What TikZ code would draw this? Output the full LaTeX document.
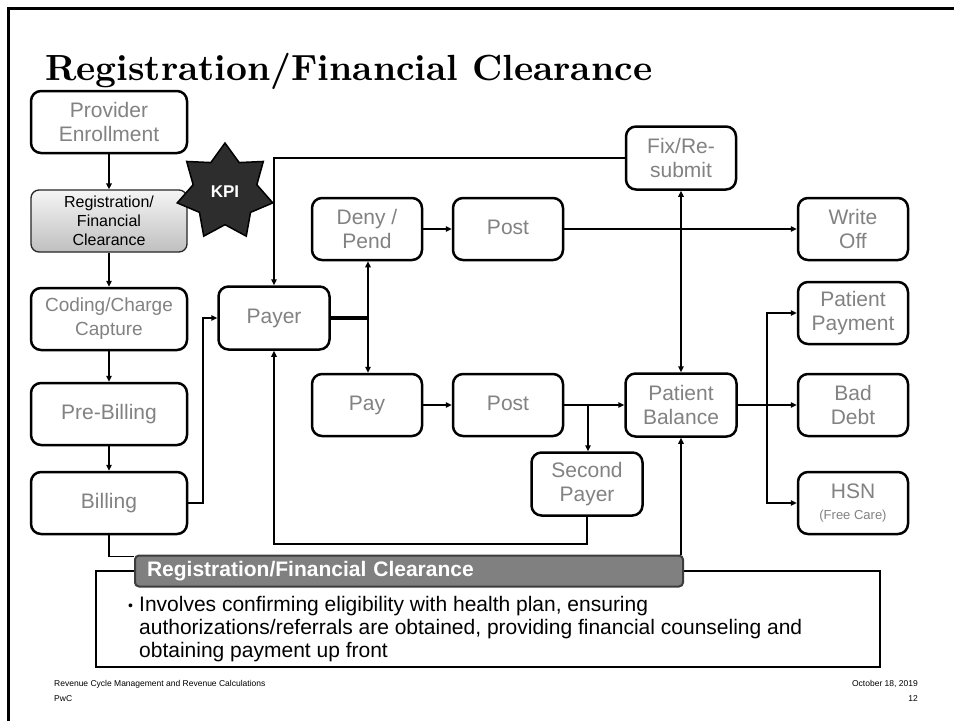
\documentclass[tikz,border=0pt]{standalone}
\usepackage{fontspec}
\usepackage{graphicx}
\usetikzlibrary{arrows.meta,shapes.geometric,calc}
\newfontfamily\arialf{Liberation Sans}
\definecolor{labelgray}{RGB}{130,130,130}
\definecolor{barfill}{RGB}{128,128,128}
\definecolor{bardraw}{RGB}{60,60,60}
\definecolor{kpifill}{RGB}{45,45,45}
\begin{document}
\begin{tikzpicture}[x=1pt,y=-1pt,
  box/.style={draw=black, line width=2.5pt, rounded corners=10pt, minimum width=110pt, minimum height=62pt, align=center, text=labelgray, font=\arialf\fontsize{21}{24}\selectfont, inner sep=1pt},
  lbox/.style={box, minimum width=156pt},
  onel/.style={text height=15pt, text depth=4.5pt},
  conn/.style={line width=1.8pt},
  arr/.style={conn, -{Triangle[length=6pt,width=5.5pt]}},
  darr/.style={conn, {Triangle[length=6pt,width=5.5pt]}-{Triangle[length=6pt,width=5.5pt]}},
  foot/.style={inner sep=0, font=\arialf\fontsize{8.5}{10}\selectfont},
  body/.style={anchor=base west, inner sep=0, font=\arialf\fontsize{21}{23}\selectfont},
]
\useasboundingbox (0,0) rectangle (954,721);
\fill[white] (0,0) rectangle (954,721);
\draw[line width=3pt] (8,721) -- (8,8) -- (954,8);

\node[anchor=base west, inner sep=0] (title) at (45,80) {\resizebox{607pt}{!}{\bfseries Registration/Financial Clearance}};

% left column
\node[lbox] (prov) at (109,122) {Provider\\Enrollment};
\node[lbox, draw=black!85, line width=1.3pt, rounded corners=8pt, top color=gray!8, bottom color=gray!50, text=black, font=\arialf\fontsize{16}{19}\selectfont] (reg) at (109,221) {Registration/\\Financial\\Clearance};
\node[lbox, font=\arialf\fontsize{19}{24}\selectfont] (cod) at (109,319) {Coding/Charge\\Capture};
\node[lbox, onel] (pre) at (109,414) {Pre-Billing};
\node[lbox, onel] (bill) at (109,503) {Billing};

% middle
\node[box, onel, minimum width=111pt, minimum height=63pt] (payer) at (274,318) {Payer};
\node[box] (deny) at (367,229) {Deny /\\Pend};
\node[box, onel] (post1) at (508,229) {Post};
\node[box, minimum height=63pt] (fix) at (681,158) {Fix/Re-\\submit};
\node[box] (write) at (853,229) {Write\\Off};
\node[box] (ppay) at (853,313) {Patient\\Payment};
\node[box, onel] (pay) at (367,405) {Pay};
\node[box, onel] (post2) at (508,405) {Post};
\node[box, minimum width=111pt, minimum height=63pt] (pbal) at (681,405) {Patient\\Balance};
\node[box, minimum width=111pt, minimum height=63pt] (second) at (587,484) {Second\\Payer};
\node[box] (bad) at (853,405) {Bad\\Debt};
\node[box] (hsn) at (853,503) {HSN\\[-3pt]{\fontsize{13}{15}\selectfont (Free Care)}};

% connectors
\draw[arr] (prov) -- (reg);
\draw[arr] (reg) -- (cod);
\draw[arr] (cod) -- (pre);
\draw[arr] (pre) -- (bill);
\draw[arr] (bill.east) -- ++(15,0) |- (payer.west);
\draw[arr] (fix.west) -| (payer.north);
\coordinate (b1) at (368,318);
\draw[line width=4pt] (payer.east) -- (b1);
\draw[arr] (b1) -- (b1 |- deny.south);
\draw[arr] (b1) -- (b1 |- pay.north);
\draw[arr] (deny) -- (post1);
\draw[arr] (post1) -- (write);
\draw[arr] (pay) -- (post2);
\draw[arr] (post2) -- (pbal);
\coordinate (b2) at (588,405);
\draw[arr] (b2) -- (b2 |- second.north);
\draw[arr] (second.south) -- ++(0,27) -| (payer.south);
\draw[darr] (fix.south) -- (pbal.north);
\coordinate (b3) at (767,405);
\draw[conn] (pbal.east) -- (b3);
\draw[arr] (b3) |- (ppay.west);
\draw[arr] (b3) -- (bad.west);
\draw[arr] (b3) |- (hsn.west);

% KPI star
\node[star, star points=7, star point ratio=1.5, minimum size=98pt, inner sep=0, fill=kpifill, draw=black, line width=1.5pt, text=white, font=\arialf\bfseries\fontsize{17}{17}\selectfont] (kpi) at (225,192) {KPI};

% callout
\node[draw, line width=2.5pt, minimum width=784pt, minimum height=96pt, inner sep=0] (callout) at (488,619) {};
\node[fill=barfill, draw=bardraw, line width=2pt, rounded corners=4pt, minimum width=548pt, minimum height=31pt, text width=524pt, inner xsep=12pt, align=left, text=white, font=\arialf\bfseries\fontsize{21}{24}\selectfont] (bar) at (409,571) {Registration/Financial Clearance};
\draw[conn] (bill.south) |- ($(bar.north west)+(0,2)$);
\draw[arr] (pbal.south |- bar.north) -- (pbal.south);

\node[body] (l1) at (128,611) {\makebox[11pt][l]{\fontsize{14}{14}\selectfont\raisebox{1pt}{•}}Involves confirming eligibility with health plan, ensuring};
\node[body] (l2) at (139,634) {authorizations/referrals are obtained, providing financial counseling and};
\node[body] (l3) at (139,657) {obtaining payment up front};

% footer
\node[foot, anchor=base west] (f1) at (54,686) {Revenue Cycle Management and Revenue Calculations};
\node[foot, anchor=base west] (f2) at (54,701) {PwC};
\node[foot, anchor=base east] (f3) at (918,686) {October 18, 2019};
\node[foot, anchor=base east] (f4) at (918,701) {12};
\end{tikzpicture}
\end{document}
